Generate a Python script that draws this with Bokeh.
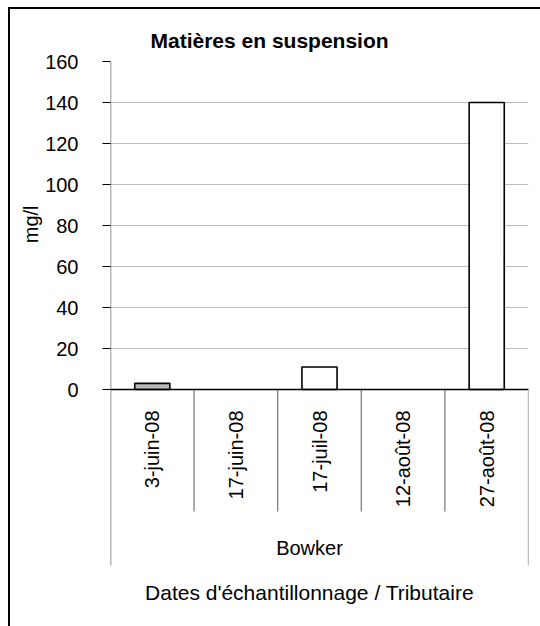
import math
from bokeh.plotting import figure
from bokeh.models import FixedTicker, Title, ColumnDataSource
from bokeh.embed import file_html
from bokeh.resources import INLINE
from bokeh.core.properties import value

# ---------------- data ----------------
chart_title = "Matières en suspension"
dates = ["3-juin-08", "17-juin-08", "17-juil-08", "12-août-08", "27-août-08"]
mes_values = [3, float("nan"), 11, float("nan"), 140]   # mg/l
group_name = "Bowker"
y_ticks = [0, 20, 40, 60, 80, 100, 120, 140, 160]
y_label = "mg/l"
x_label = "Dates d'échantillonnage / Tributaire"

# ---------------- layout (pixels) ----------------
FONT = "Liberation Sans"
FRAME_W = 418
FRAME_H = 557
VALUE_H = 328          # pixels used by the 0..max value band
y_max = max(y_ticks)
scale = VALUE_H / y_max
y_start = -(FRAME_H - VALUE_H) / scale
n = len(dates)


def below(px):
    """data value px pixels below zero"""
    return -px / scale


p = figure(
    frame_width=FRAME_W, frame_height=FRAME_H,
    min_border_left=102, min_border_right=12, min_border_top=54, min_border_bottom=8,
    x_range=(0, n), y_range=(y_start, y_max),
    output_backend="svg", toolbar_location=None,
    border_fill_color=None, background_fill_color=None,
)
p.margin = (7, 0, 0, 8)
p.outline_line_color = None
p.styles = {"box-shadow": "inset 2px 2px 0 0 #000000"}

# title
p.title.text = chart_title
p.title.align = "left"
p.title.offset = 40
p.title.standoff = 20
p.title.text_font = FONT
p.title.text_font_size = "21px"
p.title.text_font_style = "bold"
p.title.text_color = "black"

p.xaxis.visible = False
p.xgrid.visible = False
p.ygrid.ticker = FixedTicker(ticks=y_ticks)
p.ygrid.grid_line_color = "#bdbdbd"
p.ygrid.grid_line_width = 1

ax = p.yaxis[0]
ax.ticker = FixedTicker(ticks=y_ticks)
ax.axis_line_color = None
ax.major_tick_in = 0
ax.major_tick_out = 8
ax.major_tick_line_color = "black"
ax.major_tick_line_width = 1.2
ax.minor_tick_line_color = None
ax.major_label_standoff = 24
ax.major_label_text_font = FONT
ax.major_label_text_font_size = "20px"
ax.major_label_text_color = "black"

# y label as a title in the left panel
ylab = Title(text=y_label, align="right", offset=144, vertical_align="middle", standoff=0,
             text_font=FONT, text_font_size="20px", text_font_style="normal",
             text_color="black")
p.add_layout(ylab, "left")

xs = [i + 0.5 for i in range(n)]
fills = ["#b8b8b8" if i == 0 else "white" for i in range(n)]
src = ColumnDataSource(dict(x=xs, top=mes_values, fill=fills, label=dates))

# vertical axis line + left group line
p.segment(x0=[0], y0=[y_max], x1=[0], y1=[below(176)], line_color="#707070", line_width=1.5)
# category separators below axis
p.segment(x0=list(range(1, n)), y0=[0] * (n - 1), x1=list(range(1, n)), y1=[below(122)] * (n - 1),
          line_color="#808080", line_width=1.3)
p.segment(x0=[n], y0=[0], x1=[n], y1=[below(176)], line_color="#808080", line_width=1.3)

# bars
p.vbar(x="x", top="top", bottom=0, width=0.42, source=src, fill_color="fill",
       line_color="black", line_width=1.6)

# zero line
p.segment(x0=[0], y0=[0], x1=[n], y1=[0], line_color="black", line_width=1.5)

# date labels
p.text(x="x", y=0, text="label", source=src, angle=math.pi / 2, y_offset=21,
       text_align="right", text_baseline="middle", text_font=value(FONT),
       text_font_size="20px", text_color="black")

# group label and axis title
p.text(x=[n / 2], y=[0], text=[group_name], x_offset=-10, y_offset=158,
       text_align="center", text_baseline="middle", text_font=value(FONT),
       text_font_size="20px", text_color="black")
p.text(x=[n / 2], y=[0], text=[x_label], x_offset=-10, y_offset=203,
       text_align="center", text_baseline="middle", text_font=value(FONT),
       text_font_size="21px", text_color="black")

open("out.html", "w").write(file_html(p, INLINE))
